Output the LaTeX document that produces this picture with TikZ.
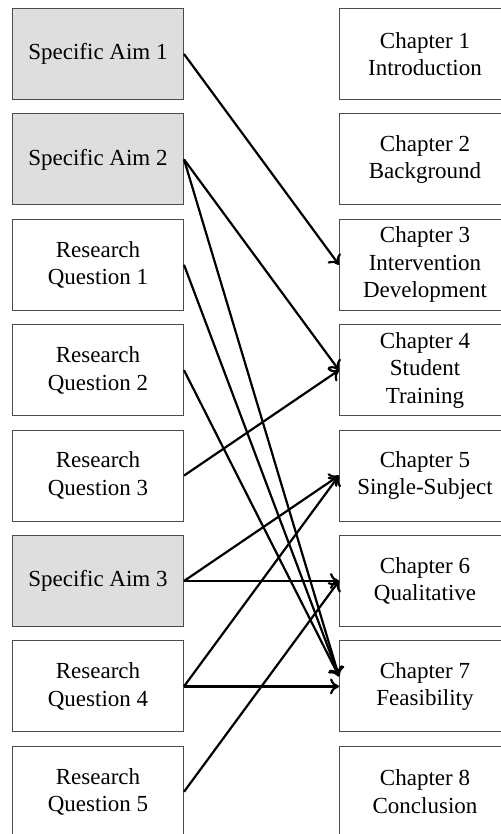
\documentclass[tikz,border=0pt]{standalone}
\usepackage{fontspec}
\setmainfont{Liberation Serif}
\usetikzlibrary{arrows.meta, positioning}

\begin{document}
\begin{tikzpicture}[x = 0.5pt, y = 0.5pt, node distance = 6.7pt and 77.5pt]
\tikzstyle{box} = [rectangle, minimum width = 85.5pt, minimum height = 45.5pt, draw = black!70, line width = 0.5pt, align = center, font = \fontsize{11.5}{13.75}\selectfont]
\tikzstyle{aim} = [box, fill = black!13]
\tikzstyle{connect} = [-{To[length = 4.5pt, width = 8pt]}, line width = 1.1pt]
\useasboundingbox (0,0) rectangle (501,-834);
  % aims and questions
  \node[aim, anchor = north west] (a1) at (12,-8) {Specific Aim 1};
  \node[aim, below=of a1] (a2) {Specific Aim 2};
  \node[box, below=of a2] (q1) {Research\\Question 1};
  \node[box, below=of q1] (q2) {Research\\Question 2};
  \node[box, below=of q2] (q3) {Research\\Question 3};
  \node[aim, below=of q3] (a3) {Specific Aim 3};
  \node[box, below=of a3] (q4) {Research\\Question 4};
  \node[box, below=of q4] (q5) {Research\\Question 5};
  % chapters
  \node[box, right=of a1] (c1) {Chapter 1\\Introduction};
  \node[box, below=of c1] (c2) {Chapter 2\\Background};
  \node[box, below=of c2] (c3) {Chapter 3\\Intervention\\Development};
  \node[box, below=of c3] (c4) {Chapter 4\\Student\\Training};
  \node[box, below=of c4] (c5) {Chapter 5\\Single-Subject};
  \node[box, below=of c5] (c6) {Chapter 6\\Qualitative};
  \node[box, below=of c6] (c7) {Chapter 7\\Feasibility};
  \node[box, below=of c7] (c8) {Chapter 8\\Conclusion};
\path (a1.east) edge [connect] (c3.west)
      (a2.east) edge [connect] (c4.west)
      (a2.east) edge [connect] ([yshift=5pt]c7.west)
      (q1.east) edge [connect] ([yshift=5pt]c7.west)
      (q2.east) edge [connect] ([yshift=5pt]c7.west)
      (q3.east) edge [connect] (c4.west)
      (a3.east) edge [connect] (c5.west)
      (a3.east) edge [connect] (c6.west)
      (q4.east) edge [connect] (c5.west)
      (q4.east) edge [connect] (c7.west)
      (q5.east) edge [connect] (c6.west);
\end{tikzpicture}
\end{document}
